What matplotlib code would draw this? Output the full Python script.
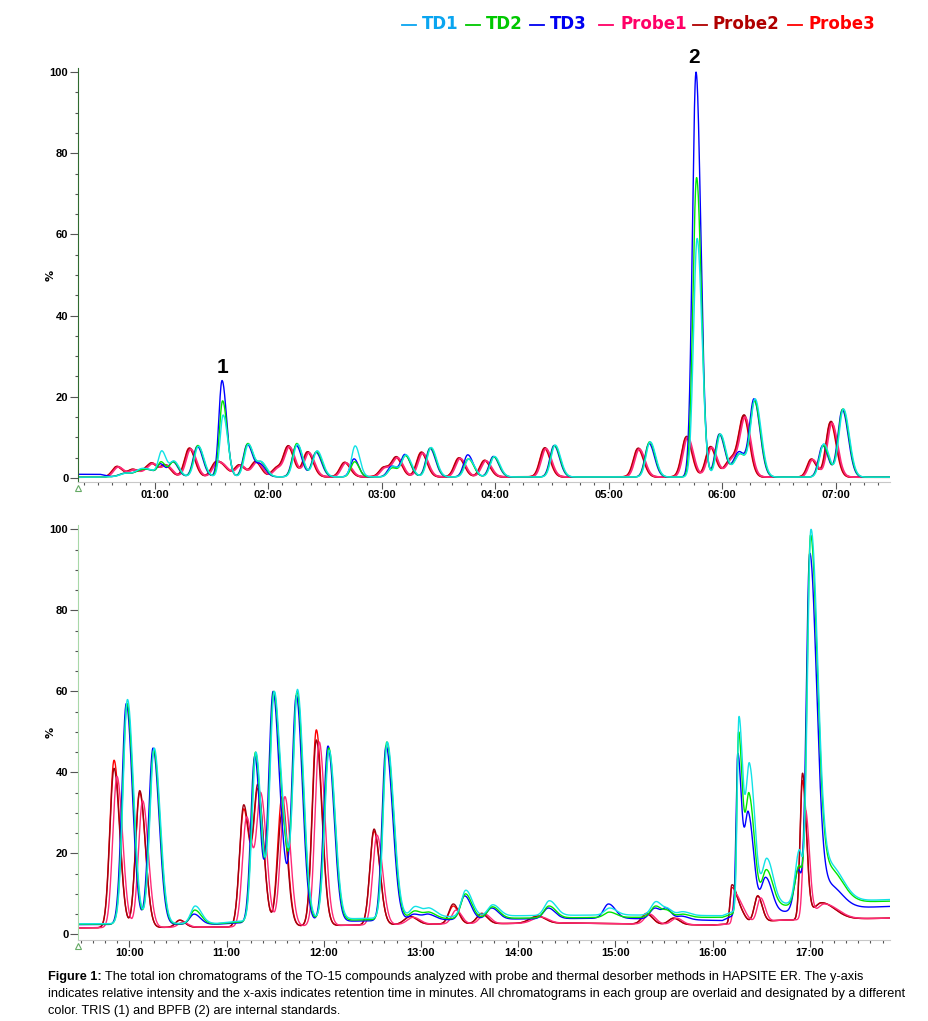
import numpy as np
import matplotlib
matplotlib.use("Agg")
from matplotlib import pyplot as plt
from matplotlib.lines import Line2D
from matplotlib.ticker import FuncFormatter, MultipleLocator

# ---- top panel (0:20 - 7:30), peak tables ----
top_td_t = [0.74, 0.87, 0.96, 1.055, 1.163, 1.377, 1.595, 1.818, 1.936, 2.249, 2.423, 2.758, 3.090,
            3.207, 3.427, 3.760, 3.985, 4.520, 5.357, 5.771, 5.976, 6.15, 6.282, 6.887, 7.060]
top_td1 = [1.2, 2.3, 2.0, 6.7, 4.2, 7.8, 15.5, 8.3, 4.0, 8.3, 6.7, 7.9, 2.9,
           5.7, 7.5, 4.7, 5.3, 8.1, 8.9, 59.0, 10.8, 6.0, 19.5, 8.4, 17.0]
top_td2 = [1.2, 2.0, 2.0, 4.0, 4.0, 8.0, 19.0, 8.5, 4.0, 8.5, 6.5, 4.0, 2.5,
           5.5, 7.4, 4.7, 5.2, 8.0, 8.9, 74.0, 10.8, 6.0, 19.0, 8.0, 17.0]
top_td3 = [1.2, 2.0, 2.0, 3.5, 4.0, 7.8, 24.0, 8.3, 3.5, 8.0, 6.3, 4.7, 2.9,
           5.8, 7.3, 5.7, 5.3, 8.0, 8.5, 100.0, 10.8, 6.5, 19.5, 8.0, 16.8]
top_td_sl = [0.05, 0.05, 0.05, 0.03, 0.035, 0.036, 0.028, 0.036, 0.035, 0.036, 0.036, 0.032, 0.036,
             0.036, 0.036, 0.036, 0.036, 0.036, 0.036, 0.032, 0.036, 0.05, 0.04, 0.036, 0.04]
top_td_sr = [0.05, 0.05, 0.05, 0.04, 0.045, 0.048, 0.04, 0.048, 0.045, 0.048, 0.048, 0.04, 0.048,
             0.048, 0.048, 0.048, 0.048, 0.048, 0.048, 0.042, 0.048, 0.05, 0.052, 0.048, 0.052]

top_pr_t = [0.672, 0.811, 0.925, 0.987, 1.101, 1.31, 1.544, 1.62, 1.751, 1.894, 2.079, 2.182, 2.352,
            2.678, 3.025, 3.134, 3.354, 3.685, 3.911, 4.44, 5.263, 5.689, 5.90, 6.08, 6.196, 6.79, 6.96]
top_pr1 = [2.7, 2.0, 2.5, 3.5, 3.1, 7.1, 3.9, 2.9, 3.1, 3.9, 2.6, 7.7, 6.2,
           3.7, 2.6, 5.0, 6.1, 4.8, 4.2, 7.2, 7.1, 10.0, 7.5, 5.0, 15.0, 4.5, 13.5]
top_pr2 = [2.8, 2.1, 2.6, 3.6, 3.2, 7.3, 4.0, 3.0, 3.2, 4.0, 2.7, 7.9, 6.4,
           3.8, 2.7, 5.2, 6.3, 4.9, 4.3, 7.4, 7.3, 10.2, 7.7, 5.0, 15.5, 4.6, 13.9]
top_pr3 = [2.8, 2.1, 2.6, 3.6, 3.2, 7.3, 4.0, 3.0, 3.2, 4.0, 2.7, 7.8, 6.4,
           3.8, 2.7, 5.1, 6.3, 4.9, 4.3, 7.3, 7.2, 10.0, 7.6, 5.0, 15.3, 4.6, 13.7]
top_pr_sl = [0.04] * 23 + [0.05, 0.045, 0.036, 0.04]
top_pr_sr = [0.05] * 23 + [0.05, 0.05, 0.046, 0.05]

top_base_t = [0.33, 0.52, 0.62, 7.5]
top_base_td3 = [0.9, 0.9, 0.3, 0.2]
top_base_td = [0.2, 0.2, 0.3, 0.2]
top_base_pr = [0.2, 0.2, 0.3, 0.2]

# ---- bottom panel (9:28 - 17:50) ----
bot_td_t = [9.969, 10.244, 10.666, 11.29, 11.479, 11.59, 11.718, 12.044, 12.641, 12.93, 13.08, 13.45,
            13.728, 14.31, 14.93, 15.408, 15.529, 15.683, 16.26, 16.369, 16.547, 16.88, 17.0, 17.2]
bot_td1 = [58.0, 46.0, 7.0, 45.0, 60.0, 27.0, 60.5, 45.5, 47.5, 6.9, 6.5, 10.9,
           7.3, 8.3, 6.5, 8.1, 6.5, 5.6, 53.8, 42.3, 18.8, 20.9, 100.0, 18.4]
bot_td2 = [57.0, 45.5, 6.0, 45.0, 60.0, 26.0, 60.0, 46.0, 47.5, 5.8, 5.5, 10.0,
           6.8, 7.0, 5.5, 7.0, 6.0, 5.0, 50.0, 34.9, 16.0, 17.0, 98.6, 17.5]
bot_td3 = [57.0, 46.0, 5.0, 44.0, 60.0, 22.0, 59.0, 46.5, 46.5, 5.0, 5.0, 9.5,
           6.5, 6.5, 7.5, 6.5, 6.5, 4.5, 44.7, 30.3, 14.1, 16.0, 94.1, 13.5]
bot_td_sl = [0.045, 0.045, 0.045, 0.04, 0.045, 0.04, 0.045, 0.045, 0.04, 0.05, 0.05, 0.045,
             0.05, 0.05, 0.05, 0.05, 0.04, 0.05, 0.018, 0.035, 0.045, 0.04, 0.035, 0.12]
bot_td_sr = [0.062, 0.062, 0.065, 0.055, 0.062, 0.04, 0.062, 0.062, 0.068, 0.07, 0.07, 0.065,
             0.07, 0.07, 0.07, 0.06, 0.05, 0.07, 0.04, 0.055, 0.065, 0.03, 0.07, 0.13]

bot_pr_t = [9.843, 10.107, 10.52, 11.177, 11.324, 11.571, 11.924, 12.518, 12.89, 13.333, 13.625,
            14.2, 15.323, 15.6, 16.198, 16.28, 16.465, 16.926, 17.12]
bot_pr1 = [39.0, 33.0, 3.0, 29.0, 35.0, 34.0, 47.5, 24.5, 4.2, 6.0, 5.0,
           4.3, 5.0, 4.0, 10.0, 7.0, 9.0, 30.7, 7.5]
bot_pr2 = [41.0, 35.5, 3.5, 32.0, 37.0, 30.0, 48.0, 26.0, 4.4, 7.5, 5.2,
           4.5, 5.2, 4.0, 12.2, 7.5, 9.5, 39.8, 7.8]
bot_pr3 = [43.0, 35.0, 3.5, 31.0, 36.0, 34.0, 50.5, 25.5, 4.4, 7.0, 5.0,
           4.5, 5.0, 4.0, 11.5, 7.5, 9.5, 38.0, 7.8]
bot_pr_sl = [0.043, 0.043, 0.045, 0.043, 0.043, 0.045, 0.043, 0.043, 0.06, 0.045, 0.05,
             0.08, 0.05, 0.05, 0.018, 0.04, 0.035, 0.025, 0.08]
bot_pr_sr = [0.058, 0.058, 0.055, 0.058, 0.058, 0.055, 0.058, 0.058, 0.07, 0.055, 0.06,
             0.08, 0.06, 0.06, 0.045, 0.05, 0.045, 0.04, 0.14]

bot_base_t = [9.47, 10.9, 11.1, 12.9, 14.0, 15.0, 16.1, 16.2, 16.7, 17.5, 17.83]
bot_base_td1 = [2.6, 2.7, 3.2, 4.2, 4.6, 4.8, 4.6, 5.5, 7.5, 8.3, 8.6]
bot_base_td2 = [2.5, 2.6, 3.0, 3.8, 4.0, 4.2, 4.2, 5.0, 7.0, 8.0, 8.2]
bot_base_td3 = [2.4, 2.5, 2.8, 3.5, 3.8, 4.0, 3.4, 4.5, 5.5, 6.6, 6.9]
bot_base_pr_t = [9.47, 11.0, 13.0, 14.5, 16.0, 16.15, 16.7, 17.83]
bot_base_pr = [1.6, 1.8, 2.5, 2.8, 2.3, 2.5, 3.5, 4.0]

names = ["TD1", "TD2", "TD3", "Probe1", "Probe2", "Probe3"]
legend_colors = ["#0aa5f0", "#00c800", "#0000f0", "#ff0066", "#b00000", "#ff0000"]
line_colors = ["#12e2e6", "#00e600", "#0000ff", "#ff2a78", "#a00010", "#ff0000"]


def shape(t, c, sl, sr):
    s = np.where(t < c, sl, sr)
    return np.exp(-0.5 * ((t - c) / s) ** 2)


def trace(t, cen, apex, sl, sr, shift, bt, bv):
    # amplitudes chosen so that the curve passes through the read apex values
    cen = np.asarray(cen) + shift
    M = np.array([[shape(ci, cj, a, b) for cj, a, b in zip(cen, sl, sr)] for ci in cen])
    rhs = np.asarray(apex) - np.interp(cen, bt, bv)
    amp = np.clip(np.linalg.lstsq(M, rhs, rcond=None)[0], 0, None)
    y = np.interp(t, bt, bv)
    for c, A, a, b in zip(cen, amp, sl, sr):
        y = y + A * shape(t, c, a, b)
    return y


def mmss(x, pos):
    return "%02d:00" % int(round(x))


def style_axes(ax, xlo, xhi, ylo, yhi, spine_col):
    ax.set_xlim(xlo, xhi)
    ax.set_ylim(ylo, yhi)
    for s in ["top", "right"]:
        ax.spines[s].set_visible(False)
    ax.spines["left"].set_color(spine_col)
    ax.spines["bottom"].set_color("#c8c8c8")
    ax.yaxis.set_major_locator(MultipleLocator(20))
    ax.yaxis.set_minor_locator(MultipleLocator(5))
    ax.xaxis.set_major_locator(MultipleLocator(1))
    ax.xaxis.set_minor_locator(MultipleLocator(0.125))
    ax.xaxis.set_major_formatter(FuncFormatter(mmss))
    ax.tick_params(axis="y", which="major", length=6, width=0.8, color="#555555", pad=1)
    ax.tick_params(axis="y", which="minor", length=2.5, width=0.8, color="#555555")
    ax.tick_params(axis="x", which="major", length=5, width=0.8, color="#555555", pad=1)
    ax.tick_params(axis="x", which="minor", length=2.5, width=0.8, color="#555555")
    for lab in ax.get_xticklabels() + ax.get_yticklabels():
        lab.set_fontweight("bold")
        lab.set_fontsize(8)
        lab.set_fontfamily("Liberation Sans")
    ax.set_ylabel("%", fontsize=8, fontweight="bold")
    ax.yaxis.set_label_coords(-0.028, 0.5)
    ax.plot([0], [-0.015], marker="^", mfc="none", mec="#66aa66", ms=5, mew=0.8,
            transform=ax.transAxes, clip_on=False)


fig = plt.figure(figsize=(9.29, 10.21), dpi=100)

# top panel
ax1 = fig.add_axes([78 / 929, 1 - 482 / 1021, 812 / 929, 414 / 1021])
t1 = np.linspace(0.326, 7.48, 4000)
series = [
    (top_pr_t, top_pr3, top_pr_sl, top_pr_sr, -0.004, top_base_pr, 5),
    (top_pr_t, top_pr2, top_pr_sl, top_pr_sr, 0.0, top_base_pr, 4),
    (top_pr_t, top_pr1, top_pr_sl, top_pr_sr, 0.008, top_base_pr, 3),
    (top_td_t, top_td3, top_td_sl, top_td_sr, 0.0, top_base_td3, 2),
    (top_td_t, top_td2, top_td_sl, top_td_sr, 0.005, top_base_td, 1),
    (top_td_t, top_td1, top_td_sl, top_td_sr, 0.01, top_base_td, 0),
]
for cen, apex, sl, sr, sh, bv, k in series:
    ax1.plot(t1, trace(t1, cen, apex, sl, sr, sh, top_base_t, bv), color=line_colors[k],
             lw=1.3 if k > 2 else 1.0)
style_axes(ax1, 0.326, 7.48, -1.0, 101.0, "#2f6b2f")
ax1.text(1.595, 27.3, "1", fontsize=15, fontweight="bold", ha="center", va="center",
         fontfamily="Liberation Sans")
ax1.text(5.753, 103.7, "2", fontsize=15, fontweight="bold", ha="center", va="center",
         fontfamily="Liberation Sans", clip_on=False)

# bottom panel
ax2 = fig.add_axes([78 / 929, 1 - 940 / 1021, 812 / 929, 415 / 1021])
t2 = np.linspace(9.472, 17.826, 5000)
series = [
    (bot_pr_t, bot_pr3, bot_pr_sl, bot_pr_sr, 0.0, bot_base_pr_t, bot_base_pr, 5),
    (bot_pr_t, bot_pr2, bot_pr_sl, bot_pr_sr, 0.0, bot_base_pr_t, bot_base_pr, 4),
    (bot_pr_t, bot_pr1, bot_pr_sl, bot_pr_sr, 0.03, bot_base_pr_t, bot_base_pr, 3),
    (bot_td_t, bot_td3, bot_td_sl, bot_td_sr, 0.0, bot_base_t, bot_base_td3, 2),
    (bot_td_t, bot_td2, bot_td_sl, bot_td_sr, 0.008, bot_base_t, bot_base_td2, 1),
    (bot_td_t, bot_td1, bot_td_sl, bot_td_sr, 0.012, bot_base_t, bot_base_td1, 0),
]
for cen, apex, sl, sr, sh, bt, bv, k in series:
    ax2.plot(t2, trace(t2, cen, apex, sl, sr, sh, bt, bv), color=line_colors[k], lw=1.0)
style_axes(ax2, 9.472, 17.826, -1.4, 101.1, "#a8d8a8")

# legend row at the top
dash_x = [402, 466, 530, 599, 693, 788]
text_x = [422, 486, 550, 620, 713, 808]
for k in range(6):
    fig.add_artist(Line2D([dash_x[k] / 929, (dash_x[k] + 14) / 929], [1 - 25 / 1021] * 2,
                          color=legend_colors[k], lw=1.3))
    fig.text(text_x[k] / 929, 1 - 24 / 1021, names[k], color=legend_colors[k], fontsize=12,
             fontweight="bold", ha="left", va="center", fontfamily="DejaVu Sans")

# caption
cap_font = ["Liberation Sans Narrow", "Liberation Sans"]
fig.canvas.draw()
r = fig.canvas.get_renderer()
head = fig.text(48 / 929, 1 - 977 / 1021, "Figure 1:", fontsize=9.2, fontweight="bold",
                va="center", ha="left", fontfamily=cap_font)
bb = head.get_window_extent(renderer=r)
fig.text((bb.x1 + 3) / 929, 1 - 977 / 1021,
         "The total ion chromatograms of the TO-15 compounds analyzed with probe and thermal "
         "desorber methods in HAPSITE ER. The y-axis",
         fontsize=9.2, va="center", ha="left", fontfamily=cap_font)
fig.text(48 / 929, 1 - 994 / 1021,
         "indicates relative intensity and the x-axis indicates retention time in minutes. All "
         "chromatograms in each group are overlaid and designated by a different",
         fontsize=9.2, va="center", ha="left", fontfamily=cap_font)
fig.text(48 / 929, 1 - 1011 / 1021, "color. TRIS (1) and BPFB (2) are internal standards.",
         fontsize=9.2, va="center", ha="left", fontfamily=cap_font)

fig.savefig("out.png", dpi=100)
